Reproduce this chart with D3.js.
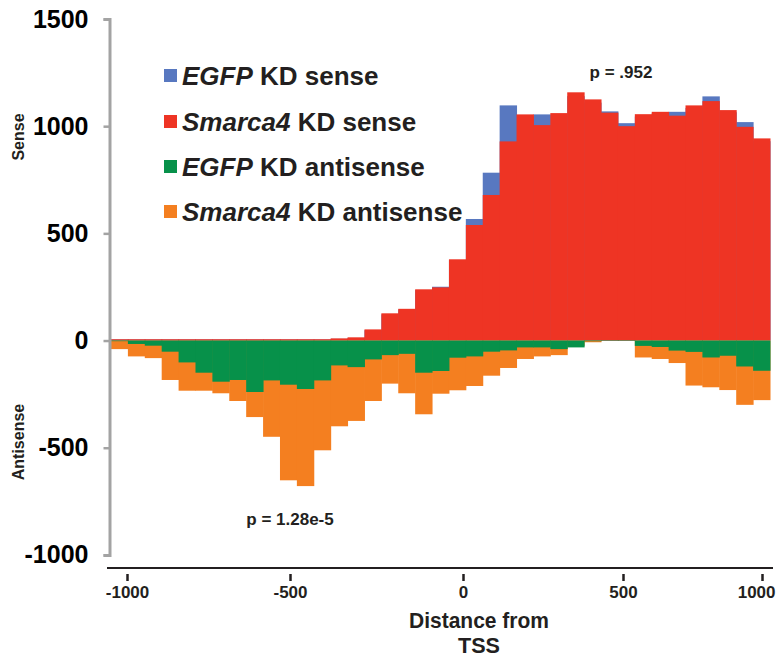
<!DOCTYPE html>
<html>
<head>
<meta charset="utf-8">
<script src="https://cdn.jsdelivr.net/npm/d3@7"></script>
<style>
  body { margin: 0; background: #fff; }
  text { font-family: "Liberation Sans", Arial, Helvetica, sans-serif; font-weight: bold; fill: #231f20; }
</style>
</head>
<body>
<svg id="chart" width="779" height="657"></svg>
<script>
// bins of 50 bp, labelled by their start position
var bins = [-1000, -950, -900, -850, -800, -750, -700, -650, -600, -550,
            -500, -450, -400, -350, -300, -250, -200, -150, -100, -50,
            0, 50, 100, 150, 200, 250, 300, 350, 400, 450,
            500, 550, 600, 650, 700, 750, 800, 850, 900];

var egfpSense = [5, 5, 5, 5, 5, 5, 5, 5, 5, 5,
                 5, 5, 5, 8, 12, 48, 122, 145, 235, 251,
                 375, 567, 783, 1097, 1045, 1055, 1050, 1140, 1110, 1069,
                 1014, 1045, 1060, 1067, 1085, 1139, 1065, 1019, 930];

var smarcaSense = [6, 6, 6, 6, 6, 6, 6, 6, 6, 6,
                   6, 6, 6, 10, 15, 52, 127, 148, 239, 248,
                   379, 539, 679, 929, 1055, 1005, 1061, 1158, 1125, 1063,
                   1000, 1056, 1067, 1049, 1097, 1117, 1075, 997, 943];

var egfpAnti = [-3, -16, -24, -52, -102, -150, -192, -184, -240, -186,
                -206, -226, -186, -116, -124, -88, -68, -62, -150, -142,
                -80, -74, -52, -46, -32, -32, -40, -32, -3, -2,
                -2, -25, -30, -47, -53, -79, -71, -121, -141];

var smarcaAnti = [-40, -74, -82, -184, -234, -234, -246, -282, -357, -449,
                  -652, -679, -512, -400, -375, -282, -201, -246, -344, -248,
                  -232, -212, -164, -128, -86, -74, -68, -25, -8, -1,
                  -1, -79, -86, -105, -210, -218, -231, -300, -278];

var yTicks = [-1000, -500, 0, 500, 1000, 1500];
var xTicks = [-1000, -500, 0, 500, 1000];

var seriesNames = ['EGFP KD sense', 'Smarca4 KD sense', 'EGFP KD antisense', 'Smarca4 KD antisense'];
var colors = ['#5878c0', '#ee3424', '#07914a', '#f47f20'];

var svg = d3.select('#chart');

var x = d3.scaleBand()
    .domain(bins)
    .range([111, 770])
    .paddingInner(0);

// tick positions on the original axis are not evenly spaced
var xAxisScale = d3.scaleLinear()
    .domain(xTicks)
    .range([127, 290, 463, 623, 762]);

var y = d3.scaleLinear()
    .domain([-1000, 1500])
    .range([554.9, 19]);

// plain hyphen for negatives, like the original
var fmt = d => String(d);

// Bars: EGFP behind, Smarca4 in front for sense; orange behind, green in front for antisense
var layers = [
  {vals: egfpSense, color: colors[0]},
  {vals: smarcaSense, color: colors[1]},
  {vals: smarcaAnti, color: colors[3]},
  {vals: egfpAnti, color: colors[2]}
];

layers.forEach(layer => {
  svg.append('g')
    .selectAll('rect')
    .data(layer.vals)
    .enter()
    .append('rect')
    .attr('x', (d, i) => x(bins[i]))
    .attr('width', x.bandwidth() + 0.5)
    .attr('y', d => d >= 0 ? y(d) : y(0))
    .attr('height', d => Math.abs(y(d) - y(0)))
    .style('fill', layer.color);
});

// Y axis
var yAxis = svg.append('g')
    .attr('transform', 'translate(109.5,0)')
    .call(d3.axisLeft(y).tickValues(yTicks).tickSize(6).tickPadding(15).tickFormat(fmt));
yAxis.select('.domain').attr('stroke', '#a3a3a3').attr('stroke-width', 3);
yAxis.selectAll('.tick line').attr('stroke', '#a3a3a3').attr('stroke-width', 2.5);
yAxis.selectAll('.tick text')
    .attr('font-size', 25)
    .attr('font-family', '"Liberation Sans", Arial, sans-serif')
    .attr('font-weight', 'bold')
    .style('fill', '#000');

// X axis line and ticks
svg.append('line')
    .attr('x1', 107).attr('x2', 773)
    .attr('y1', 568).attr('y2', 568)
    .attr('stroke', '#231f20').attr('stroke-width', 2);

var xAxis = svg.append('g')
    .attr('transform', 'translate(0,574)')
    .call(d3.axisBottom(xAxisScale).tickValues(xTicks).tickSize(7).tickPadding(5).tickFormat(fmt));
xAxis.select('.domain').remove();
xAxis.selectAll('.tick line').attr('stroke', '#231f20').attr('stroke-width', 2.5);
xAxis.selectAll('.tick text')
    .attr('font-size', 17)
    .attr('font-family', '"Liberation Sans", Arial, sans-serif')
    .attr('font-weight', 'bold')
    .style('fill', '#231f20');
// last label sits flush with the right edge in the original
xAxis.selectAll('.tick text')
    .filter(d => d === 1000)
    .attr('text-anchor', 'end')
    .attr('x', 13);

// Axis titles
svg.append('text')
    .attr('x', 479).attr('y', 628)
    .attr('text-anchor', 'middle').attr('font-size', 22)
    .attr('textLength', 140).attr('lengthAdjust', 'spacingAndGlyphs')
    .text('Distance from');
svg.append('text')
    .attr('x', 479).attr('y', 653)
    .attr('text-anchor', 'middle').attr('font-size', 22)
    .attr('textLength', 42).attr('lengthAdjust', 'spacingAndGlyphs')
    .text('TSS');

svg.append('text')
    .attr('transform', 'translate(24,137) rotate(-90)')
    .attr('text-anchor', 'middle').attr('font-size', 16)
    .text('Sense');
svg.append('text')
    .attr('transform', 'translate(24,442) rotate(-90)')
    .attr('text-anchor', 'middle').attr('font-size', 16)
    .text('Antisense');

// p values
svg.append('text')
    .attr('x', 621).attr('y', 78)
    .attr('text-anchor', 'middle').attr('font-size', 17)
    .text('p = .952');
svg.append('text')
    .attr('x', 290).attr('y', 525)
    .attr('text-anchor', 'middle').attr('font-size', 17)
    .text('p = 1.28e-5');

// Legend
var legendY = [76, 122, 167, 212];
var legend = svg.append('g')
    .selectAll('g.legend-item')
    .data(seriesNames)
    .enter()
    .append('g')
    .attr('class', 'legend-item')
    .attr('transform', (d, i) => `translate(164, ${legendY[i]})`);

legend.append('rect')
    .attr('x', 0).attr('y', -7)
    .attr('width', 13).attr('height', 13)
    .style('fill', (d, i) => colors[i]);

var legendText = legend.append('text')
    .attr('x', 18).attr('y', 9)
    .attr('font-size', 26);
legendText.append('tspan')
    .attr('font-style', 'italic')
    .text(d => d.split(' ')[0]);
legendText.append('tspan')
    .text(d => ' ' + d.split(' ').slice(1).join(' '));
</script>
</body>
</html>
